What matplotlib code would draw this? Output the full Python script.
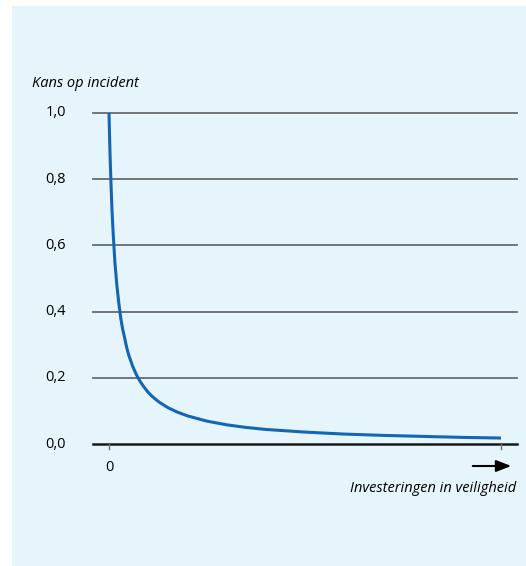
import matplotlib
matplotlib.use("Agg")
import matplotlib.pyplot as plt
from matplotlib.patches import Rectangle

# values (investment on a 0..1 scale)
investment = [0.0, 0.0025, 0.005, 0.0075, 0.01, 0.015, 0.02, 0.025, 0.03,
              0.035, 0.04, 0.045, 0.05, 0.06, 0.07, 0.08, 0.09, 0.10, 0.11,
              0.12, 0.13, 0.15, 0.175, 0.20, 0.25, 0.30, 0.35, 0.40, 0.45,
              0.50, 0.60, 0.70, 0.80, 0.90, 1.00]
probability = [1.0, 0.88, 0.79, 0.71, 0.65, 0.55, 0.48, 0.426, 0.38,
               0.346, 0.32, 0.292, 0.27, 0.236, 0.209, 0.188, 0.171, 0.156,
               0.144, 0.134, 0.125, 0.11, 0.096, 0.085, 0.069, 0.058, 0.050,
               0.044, 0.040, 0.036, 0.030, 0.026, 0.023, 0.020, 0.018]
y_ticks = [0.0, 0.2, 0.4, 0.6, 0.8, 1.0]
y_ticklabels = ["0,0", "0,2", "0,4", "0,6", "0,8", "1,0"]

W, H = 526, 566
fig = plt.figure(figsize=(W / 100, H / 100), dpi=100)
fig.patch.set_facecolor("white")
bg = "#e6f4fc"
fig.patches.append(Rectangle((12 / W, 0), 1 - 12 / W, 1 - 6 / H,
                             transform=fig.transFigure, facecolor=bg,
                             edgecolor="none", zorder=-10))

font = "Open Sans"
fs = 10.5
left, right, top, bottom = 93, 517, 113, 444
ax = fig.add_axes([left / W, 1 - bottom / H, (right - left) / W, (bottom - top) / H])
ax.set_facecolor("none")
ax.set_xlim(-16 / 392, 1 + 16 / 392)
ax.set_ylim(0, 1)
for s in ax.spines.values():
    s.set_visible(False)
ax.set_xticks([])
ax.set_yticks([])

for t in y_ticks[1:]:
    ax.axhline(t, color="#676b6e", lw=1.3, clip_on=False, zorder=1)
ax.axhline(0, color="#1a1a1a", lw=1.8, clip_on=False, zorder=1)

ax.plot(investment, probability, color="#1565b5", lw=2.2,
        solid_joinstyle="round", solid_capstyle="butt", clip_on=False, zorder=3)

for t, lab in zip(y_ticks, y_ticklabels):
    ax.annotate(lab, (0, t), xycoords=("axes fraction", "data"),
                xytext=(-27, 0), textcoords="offset pixels",
                ha="right", va="center", fontsize=fs, family=font)

# small ticks at both ends of the x axis
for x in [investment[0], investment[-1]]:
    ax.plot([x, x], [0, -0.015], color="#6e7275", lw=1, clip_on=False)
ax.text(0, -0.07, "0", ha="center", va="center", fontsize=fs, family=font)

fig.text(32 / W, 1 - 84 / H, "Kans op incident", ha="left", va="center",
         fontsize=fs, style="italic", family=font)
fig.text(516 / W, 1 - 488 / H, "Investeringen in veiligheid", ha="right",
         va="center", fontsize=fs, style="italic", family=font)
ax.annotate("", xy=(514 / W, 1 - 466 / H), xytext=(470 / W, 1 - 466 / H),
            xycoords="figure fraction", textcoords="figure fraction",
            arrowprops=dict(arrowstyle="-|>,head_length=0.9,head_width=0.35",
                            color="black", lw=1.5))

fig.savefig("out.png", dpi=100, facecolor="white")
